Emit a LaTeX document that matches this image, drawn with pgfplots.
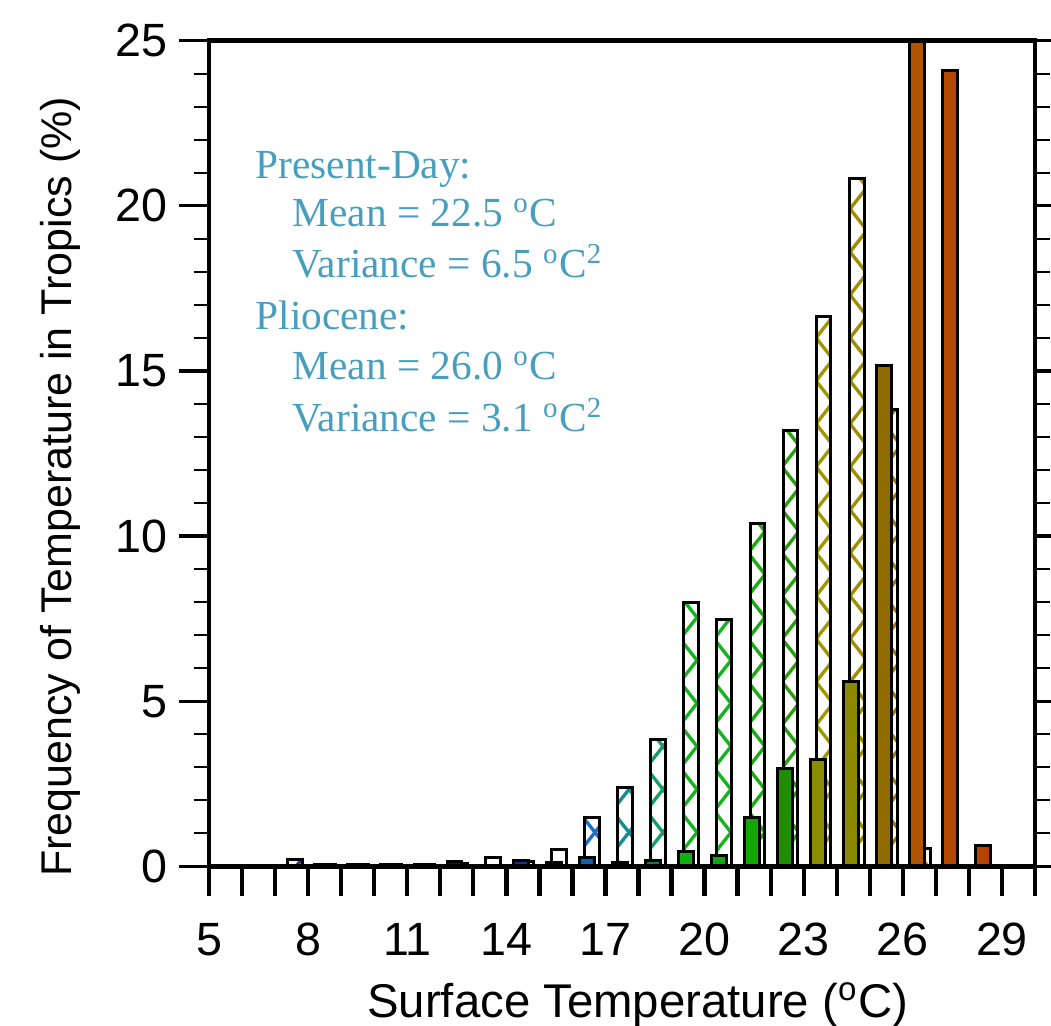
\documentclass[border=0pt]{standalone}
\usepackage{fontspec}
\setmainfont{Liberation Sans}
\newfontfamily\boxfont{Liberation Serif}
\usepackage{pgfplots}
\pgfplotsset{compat=1.18}
\usetikzlibrary{patterns.meta}

\tikzdeclarepattern{
  name=xhatch,
  type=uncolored,
  tile size={(10.2pt,12.9pt)},
  bounding box={(-1pt,-1pt) and (11.2pt,13.9pt)},
  code={
    \pgfsetlinewidth{1.0pt}
    \pgfpathmoveto{\pgfpoint{-0.4pt}{-0.5pt}}
    \pgfpathlineto{\pgfpoint{10.6pt}{13.4pt}}
    \pgfpathmoveto{\pgfpoint{-0.4pt}{13.4pt}}
    \pgfpathlineto{\pgfpoint{10.6pt}{-0.5pt}}
    \pgfusepath{stroke}
  }
}

\definecolor{txt}{RGB}{72,158,190}
% filled (Pliocene)
\definecolor{fdark}{RGB}{20,20,90}
\definecolor{f14}{RGB}{20,50,160}
\definecolor{f15}{RGB}{20,40,130}
\definecolor{f16}{RGB}{16,96,176}
\definecolor{f17}{RGB}{16,100,110}
\definecolor{f18}{RGB}{16,128,80}
\definecolor{f19}{RGB}{16,176,16}
\definecolor{f20}{RGB}{16,170,16}
\definecolor{f21}{RGB}{16,168,0}
\definecolor{f22}{RGB}{32,140,0}
\definecolor{f23}{RGB}{140,140,0}
\definecolor{f24}{RGB}{140,136,0}
\definecolor{f25}{RGB}{144,108,0}
\definecolor{f26}{RGB}{176,84,0}
\definecolor{f27}{RGB}{180,72,0}
\definecolor{f28}{RGB}{180,68,0}
% hatched (Present-Day)
\definecolor{hdark}{RGB}{30,60,170}
\definecolor{h13}{RGB}{30,80,200}
\definecolor{h14}{RGB}{30,80,200}
\definecolor{h15}{RGB}{20,90,190}
\definecolor{h16}{RGB}{30,110,200}
\definecolor{h17}{RGB}{20,140,150}
\definecolor{h18}{RGB}{20,160,100}
\definecolor{h19}{RGB}{20,180,30}
\definecolor{h20}{RGB}{20,180,30}
\definecolor{h21}{RGB}{30,170,20}
\definecolor{h22}{RGB}{40,160,10}
\definecolor{h23}{RGB}{160,150,0}
\definecolor{h24}{RGB}{160,140,0}
\definecolor{h25}{RGB}{170,120,0}
\definecolor{h26}{RGB}{200,100,0}

\pgfplotsset{
  pf/.style={ybar, bar width=0.45, bar shift=0pt, draw=black, line width=0.9pt, fill=#1, forget plot},
  pd/.style={ybar, bar width=0.45, bar shift=0pt, draw=black, line width=0.9pt, pattern=xhatch, pattern color=#1, forget plot},
}

\begin{document}
\begin{tikzpicture}
\begin{axis}[
  name=ax,
  scale only axis, width=247.8pt, height=247.7pt,
  xmin=5, xmax=30, ymin=0, ymax=25,
  axis on top,
  axis line style={line width=1.4pt, black},
  xtick={5,...,30},
  xticklabels={5,,,8,,,11,,,14,,,17,,,20,,,23,,,26,,,29,},
  ytick={0,5,...,25},
  minor ytick={0,...,25},
  tick align=outside,
  xtick pos=bottom,
  ytick pos=both,
  yticklabel pos=left,
  major tick length=9pt,
  minor tick length=4.5pt,
  tick style={black},
  x tick style={line width=1.3pt, black},
  major tick style={line width=1pt, black},
  minor tick style={line width=0.6pt, black},
  /pgf/number format/assume math mode=true,
  ticklabel style={font=\fontsize{14}{16}\selectfont},
  xticklabel style={yshift=-4.5pt},
  xlabel={Surface Temperature (\textsuperscript{o}C)},
  ylabel={Frequency of Temperature in Tropics (\%)},
  xlabel style={font=\fontsize{14.2}{16}\selectfont, at={(rel axis cs:0.519,-0.1835)}, anchor=base},
  ylabel style={font=\fontsize{12.9}{15}\selectfont, at={(rel axis cs:-0.180,0.4596)}, anchor=center},
]
% Present-Day (hatched)
\addplot[pd=hdark] coordinates {(7.60,0.20)};
\addplot[pd=hdark] coordinates {(8.60,0.06)};
\addplot[pd=hdark] coordinates {(9.60,0.06)};
\addplot[pd=hdark] coordinates {(10.60,0.06)};
\addplot[pd=hdark] coordinates {(11.60,0.06)};
\addplot[pd=hdark] coordinates {(12.60,0.08)};
\addplot[pd=h13] coordinates {(13.60,0.28)};
\addplot[pd=h14] coordinates {(14.60,0.15)};
\addplot[pd=h15] coordinates {(15.60,0.50)};
\addplot[pd=h16] coordinates {(16.60,1.48)};
\addplot[pd=h17] coordinates {(17.60,2.39)};
\addplot[pd=h18] coordinates {(18.60,3.83)};
\addplot[pd=h19] coordinates {(19.60,7.99)};
\addplot[pd=h20] coordinates {(20.60,7.46)};
\addplot[pd=h21] coordinates {(21.60,10.37)};
\addplot[pd=h22] coordinates {(22.60,13.19)};
\addplot[pd=h23] coordinates {(23.60,16.64)};
\addplot[pd=h24] coordinates {(24.60,20.84)};
\addplot[pd=h25] coordinates {(25.60,13.82)};
\addplot[pd=h26] coordinates {(26.60,0.55)};
% Pliocene (filled)
\addplot[pf=fdark] coordinates {(8.43,0.06)};
\addplot[pf=fdark] coordinates {(9.43,0.06)};
\addplot[pf=fdark] coordinates {(10.43,0.06)};
\addplot[pf=fdark] coordinates {(11.43,0.06)};
\addplot[pf=fdark] coordinates {(12.43,0.15)};
\addplot[pf=fdark] coordinates {(13.43,0.03)};
\addplot[pf=f14] coordinates {(14.43,0.18)};
\addplot[pf=f15] coordinates {(15.43,0.12)};
\addplot[pf=f16] coordinates {(16.43,0.27)};
\addplot[pf=f17] coordinates {(17.43,0.13)};
\addplot[pf=f18] coordinates {(18.43,0.17)};
\addplot[pf=f19] coordinates {(19.43,0.45)};
\addplot[pf=f20] coordinates {(20.43,0.32)};
\addplot[pf=f21] coordinates {(21.43,1.48)};
\addplot[pf=f22] coordinates {(22.43,2.97)};
\addplot[pf=f23] coordinates {(23.43,3.25)};
\addplot[pf=f24] coordinates {(24.43,5.59)};
\addplot[pf=f25] coordinates {(25.43,15.18)};
\addplot[pf=f26] coordinates {(26.43,44.8)};
\addplot[pf=f27] coordinates {(27.43,24.09)};
\addplot[pf=f28] coordinates {(28.43,0.63)};
% annotation
\begin{scope}[every node/.style={inner sep=0pt, anchor=base west, text=txt, font=\boxfont\fontsize{12.4}{14}\selectfont}]
\node at (axis cs:6.39,20.84) {Present-Day:};
\node at (axis cs:7.51,19.36) {Mean = 22.5 \textsuperscript{o}C};
\node at (axis cs:7.51,17.82) {Variance = 6.5 \textsuperscript{o}C\textsuperscript{2}};
\node at (axis cs:6.39,16.27) {Pliocene:};
\node at (axis cs:7.51,14.73) {Mean = 26.0 \textsuperscript{o}C};
\node at (axis cs:7.51,13.16) {Variance = 3.1 \textsuperscript{o}C\textsuperscript{2}};
\end{scope}
\end{axis}
\pgfresetboundingbox
\path[use as bounding box] ([shift={(-62.7pt,-47.85pt)}]ax.south west) rectangle ([shift={(4.8pt,12.21pt)}]ax.north east);
\end{tikzpicture}
\end{document}
